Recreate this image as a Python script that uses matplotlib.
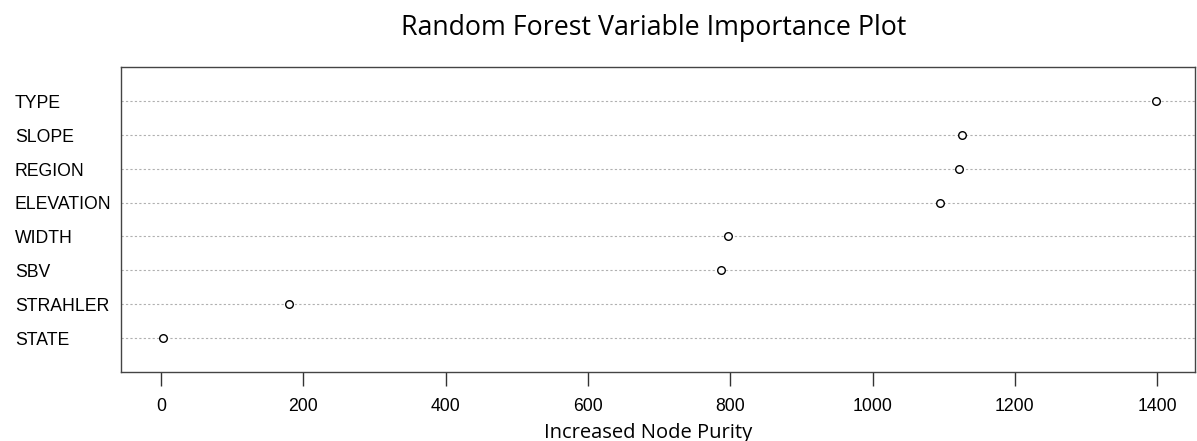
import matplotlib.pyplot as plt
from matplotlib.transforms import blended_transform_factory

# variable importance (top to bottom)
variables = ["TYPE", "SLOPE", "REGION", "ELEVATION", "WIDTH", "SBV", "STRAHLER", "STATE"]
purity = [1398, 1126, 1122, 1095, 797, 787, 180, 3]
xticks = [0, 200, 400, 600, 800, 1000, 1200, 1400]

fig = plt.figure(figsize=(11.97, 4.41), dpi=100)
ax = fig.add_axes([121 / 1197, 1 - 372 / 441, (1195 - 121) / 1197, (372 - 67) / 441])

n = len(variables)
ypos = list(range(n, 0, -1))

for y in ypos:
    ax.axhline(y, color="#b0b0b0", linestyle=(0, (2, 2)), linewidth=0.8, zorder=1)
ax.scatter(purity, ypos, s=30, facecolors="white", edgecolors="black", linewidths=1.0, zorder=3)

ax.set_xlim(-56, 1453)
ax.set_ylim(0, n + 1)
ax.set_xticks(xticks)
ax.set_xticklabels([str(t) for t in xticks], family="Liberation Sans", fontsize=12.7)
ax.set_yticks([])
ax.tick_params(axis="x", direction="out", length=10, width=1, pad=9, color="#333333")

trans = blended_transform_factory(fig.transFigure, ax.transData)
for y, name in zip(ypos, variables):
    ax.text(15 / 1197, y - 0.07, name, transform=trans,
            ha="left", va="center", family="Liberation Sans", fontsize=12.7)

for sp in ax.spines.values():
    sp.set_color("#444444")
    sp.set_linewidth(1.0)

fig.text(654 / 1197, 1 - 28 / 441, "Random Forest Variable Importance Plot", ha="center", va="center",
         family="Open Sans", fontsize=19.3)
fig.text(648 / 1197, 1 - 433 / 441, "Increased Node Purity", ha="center", va="center",
         family="Open Sans", fontsize=14.5)

fig.savefig("out.png", dpi=100)
